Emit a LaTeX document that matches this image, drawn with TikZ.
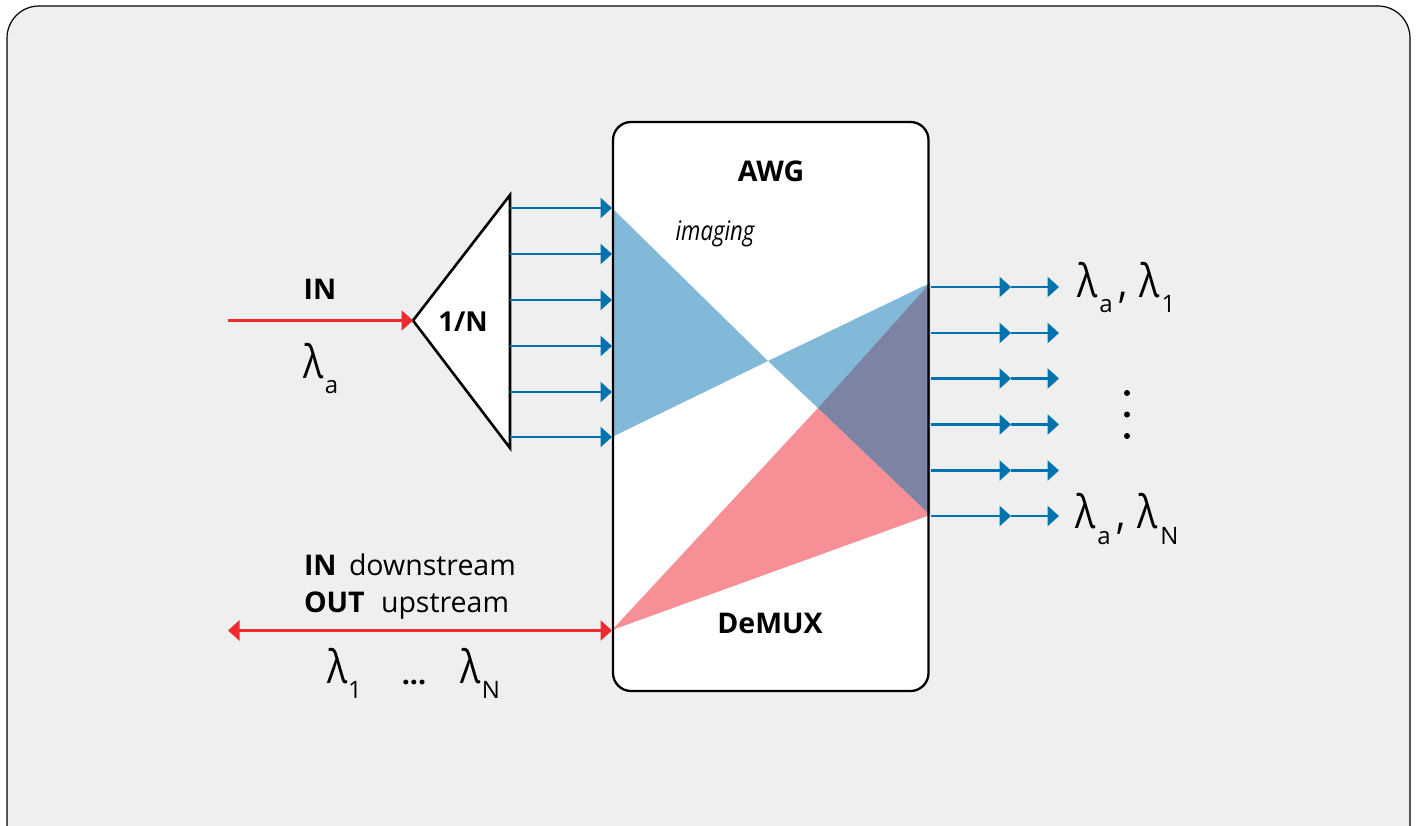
\documentclass[tikz,border=0pt]{standalone}
\usepackage{fontspec}
\setmainfont{Open Sans}
\usetikzlibrary{arrows.meta}
\definecolor{panelgray}{HTML}{EFEFEF}
\definecolor{arrowblue}{HTML}{0072AE}
\definecolor{lightblue}{HTML}{82B8D8}
\definecolor{arrowred}{HTML}{EE2A2E}
\definecolor{lightred}{HTML}{F69096}
\definecolor{overlap}{HTML}{7C83A3}
\tikzset{
  bluearrow/.style={draw=arrowblue,line width=2.6pt,-{Triangle[length=11.5pt,width=20pt]}},
  redarrow/.style={draw=arrowred,line width=2.6pt},
  redtip/.style={-{Triangle[length=11.5pt,width=20pt]}},
  label/.style={inner sep=0pt,outer sep=0pt,anchor=base,text=black},
  hd/.style={label,font=\fontsize{28.5}{28.5}\selectfont\bfseries},
  txt/.style={label,font=\fontsize{28.5}{28.5}\selectfont},
  lam/.style={label,font=\fontsize{46}{46}\selectfont,xscale=.82},
  sub/.style={label,font=\fontsize{24}{24}\selectfont},
}
\begin{document}
\begin{tikzpicture}[x=1pt,y=-1pt]
\useasboundingbox (0,0) rectangle (1420,825);
\begin{scope}
\clip (0,0) rectangle (1420,825);
\draw[fill=panelgray,draw=black,line width=1.2pt,rounded corners=32pt] (7,6) rectangle (1410,860);
\end{scope}
% AWG box
\node[fill=white,rounded corners=18pt,minimum width=315.5pt,minimum height=569pt,inner sep=0pt,anchor=north west] (awg) at (613,122) {};
% imaging cones
\fill[lightblue] (612,208) -- (768,361) -- (612,437) -- cycle;
\fill[lightblue] (768,361) -- (930,283) -- (818,408) -- cycle;
\fill[lightred] (612,630) -- (818,408) -- (930,515) -- cycle;
\fill[overlap] (818,408) -- (930,283) -- (930,515) -- cycle;
\draw[black,line width=2.3pt,rounded corners=18pt] (613,122) rectangle (928.5,691);
% splitter
\coordinate (apex) at (413,320.5);
\draw[fill=white,draw=black,line width=2.6pt,line join=miter] (apex) -- (510,195) -- (510,448) -- cycle;
\node[label,font=\fontsize{27.5}{27.5}\selectfont\bfseries] (splitlabel) at (463,331) {1/N};
% red in
\coordinate (inStart) at (228,320.5);
\draw[redarrow,redtip] (inStart) -- (apex);
\coordinate (bLeft) at (228,630.5);
\coordinate (bRight) at (612,630.5);
\draw[redarrow,{Triangle[length=11.5pt,width=20pt]}-{Triangle[length=11.5pt,width=20pt]}] (bLeft) -- (bRight);
% splitter outputs
\foreach \i/\y in {1/208,2/254,3/300,4/346,5/392,6/437}{
  \coordinate (s\i) at (510,\y);
  \coordinate (a\i) at (612,\y);
  \draw[bluearrow] (s\i) -- (a\i);
}
% awg outputs
\foreach \i/\y in {1/287,2/333,3/378.5,4/424.5,5/470.5,6/516}{
  \coordinate (o\i) at (931,\y);
  \coordinate (m\i) at (1011,\y);
  \coordinate (e\i) at (1059,\y);
  \draw[bluearrow] (o\i) -- (m\i);
  \draw[bluearrow] (m\i) -- (e\i);
}
% texts
\node[hd] (awgt) at (771,181) {AWG};
\node[hd] (demux) at (770,633) {DeMUX};
\node[label,font=\fontsize{27}{27}\selectfont\itshape,xscale=.82] (imaging) at (715,240) {imaging};
\node[hd] (int) at (320,299) {IN};
\node[lam] (la) at (313.5,378) {λ};
\node[sub] (las) at (331.5,393) {a};
\node[lam] (l1a) at (1087.5,297) {λ};
\node[sub] (l1as) at (1106,312) {a};
\node[lam] (l1c) at (1123,297) {,};
\node[lam] (l1) at (1150,297) {λ};
\node[sub] (l1s) at (1168.5,312) {1};
\node[lam] (lNa) at (1085.5,528) {λ};
\node[sub] (lNas) at (1104,544) {a};
\node[lam] (lNc) at (1121,528) {,};
\node[lam] (lN) at (1148,528) {λ};
\node[sub] (lNs) at (1169.5,544) {N};
\fill (1127,393) circle (3pt) (1127,414.5) circle (3pt) (1127,436) circle (3pt);
\node[hd,anchor=base west] (in2) at (304,575) {IN};
\node[txt,anchor=base west] (down) at (349,575) {downstream};
\node[hd,anchor=base west] (out2) at (304,612) {OUT};
\node[txt,anchor=base west] (up) at (381,612) {upstream};
\node[lam] (b1) at (337.5,683) {λ};
\node[sub] (b1s) at (355,698) {1};
\node[hd] (dots) at (414,684) {...};
\node[lam] (bN) at (471,683) {λ};
\node[sub] (bNs) at (491,698) {N};
\end{tikzpicture}
\end{document}
